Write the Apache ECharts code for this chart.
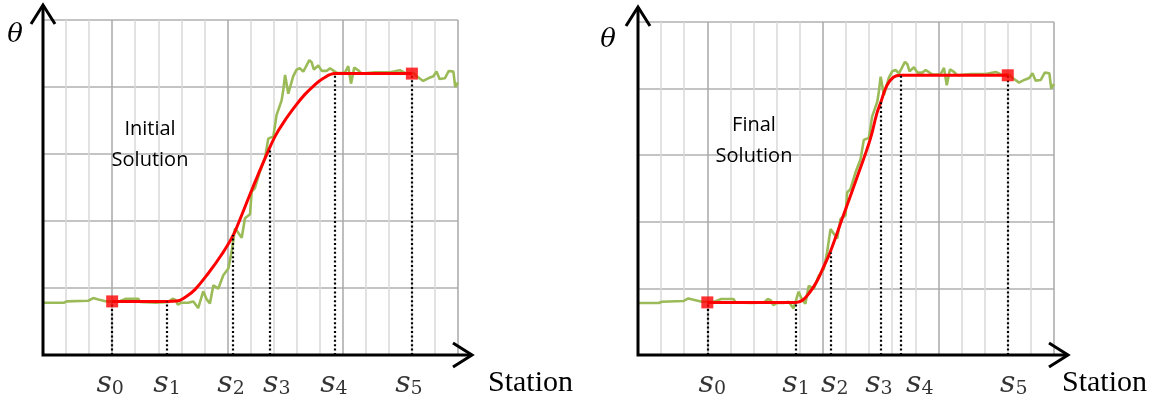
<!DOCTYPE html>
<html>
<head>
<meta charset="utf-8">
<script src="https://cdn.jsdelivr.net/npm/echarts@6/dist/echarts.min.js"></script>
<style>
html,body{margin:0;padding:0;background:#fff;}
#chart{width:1151px;height:400px;}
</style>
</head>
<body>
<div id="chart"></div>
<script>
// ---- data ----
// measured heading (same measurement in both panels)
const measured = [
  [-3,0.78],[-2.1,0.78],[-1.97,0.80],[-1.04,0.81],[-0.82,0.85],[-0.6,0.83],[-0.24,0.80],
  [0.3,0.80],[0.6,0.84],[1.13,0.84],[1.22,0.79],[1.9,0.78],[2.45,0.79],[2.62,0.84],[2.75,0.82],
  [2.85,0.75],[3.0,0.78],[3.3,0.78],[3.52,0.80],[3.73,0.70],[3.95,0.95],[4.1,0.83],[4.24,0.77],
  [4.39,1.04],[4.6,0.99],[4.82,1.19],[5.04,1.29],[5.18,1.54],[5.33,1.89],[5.62,1.75],[5.76,2.04],
  [5.98,2.10],[6.05,2.44],[6.19,2.49],[6.41,2.74],[6.63,2.94],[6.77,3.23],[6.99,3.26],[7.13,3.58],
  [7.35,3.80],[7.42,3.95],[7.5,4.18],[7.64,3.90],[7.85,4.16],[8.0,4.26],[8.14,4.28],[8.29,4.23],
  [8.4,4.30],[8.55,4.40],[8.65,4.37],[8.75,4.26],[8.94,4.32],[9.09,4.24],[9.3,4.24],[9.45,4.28],
  [9.74,4.21],[9.95,4.21],[10.1,4.22],[10.24,4.31],[10.36,4.05],[10.5,4.29],[10.67,4.25],[10.82,4.20],
  [11.4,4.22],[12.05,4.22],[12.48,4.25],[12.77,4.20],[13.06,4.21],[13.21,4.16],[13.49,4.09],
  [13.71,4.13],[13.93,4.16],[14.07,4.23],[14.2,4.12],[14.43,4.13],[14.6,4.24],[14.8,4.23],
  [14.88,4.00],[15,4.07]
];
// fitted curves
const initialCurve = [
  [0,0.80],[2.38,0.80],[2.8,0.805],[3.2,0.87],[3.6,0.98],[4.17,1.22],[4.75,1.50],[5.25,1.79],
  [5.62,2.09],[5.98,2.40],[6.34,2.70],[6.70,2.99],[7.06,3.26],[7.45,3.48],[8.0,3.74],[8.36,3.89],
  [8.72,4.01],[9.16,4.13],[9.66,4.20],[13,4.20]
];
const finalCurve = [
  [0,0.79],[3.84,0.79],[4.15,0.83],[4.45,0.95],[4.73,1.10],[5.0,1.30],[5.31,1.54],[5.88,2.09],
  [6.46,2.65],[7.04,3.23],[7.33,3.62],[7.51,3.80],[7.76,4.04],[8.05,4.17],[8.37,4.20],[13,4.20]
];
// stations s0..s5 and curve heights there
const stationNames = ['0','1','2','3','4','5'];
const initialStations = [0, 2.38, 5.24, 6.84, 9.66, 13];
const initialStationY = [0.80, 0.80, 1.79, 3.06, 4.20, 4.20];
const finalStations = [0, 3.84, 5.34, 7.51, 8.37, 13];
const finalStationY = [0.79, 0.79, 1.54, 3.80, 4.20, 4.20];
const panelTitles = [['Initial','Solution'],['Final','Solution']];
const xMin = -3, xMax = 15, yMin = 0, yMax = 5;

// ---- layout (pixels) ----
const grids = [
  {left:43, top:20, width:415, height:335},
  {left:638, top:22, width:416, height:333}
];
const labelShift = [[-2,0,-2,7,-1,-3],[5,0,4,-2,19,6]];
const thetaPos = [[15,35],[608,40]];
const stationPos = [[488,383],[1062,383]];
const titlePos = [[150,129,160],[754,125,156]];

const chart = echarts.init(document.getElementById('chart'), null, {renderer:'canvas'});
const minorC = '#d9d9d9', majorC = '#a8a8a8';
function xAxisDef(i){
  return {gridIndex:i, type:'value', min:xMin, max:xMax, interval:1,
    axisLine:{show:false}, axisTick:{show:false}, axisLabel:{show:false},
    splitLine:{show:true, lineStyle:{width:1.5, color:[minorC,minorC,minorC,majorC,minorC]}}};
}
function yAxisDef(i){
  return {gridIndex:i, type:'value', min:yMin, max:yMax, interval:1,
    axisLine:{show:false}, axisTick:{show:false}, axisLabel:{show:false},
    splitLine:{show:true, lineStyle:{width:1.5, color:'#b0b0b0'}}};
}
function panelSeries(i, curve, st, stY){
  return [
    {type:'line', xAxisIndex:i, yAxisIndex:i, data:measured, showSymbol:false, z:2,
     lineStyle:{color:'#9bbb59', width:2.6}, animation:false},
    {type:'line', xAxisIndex:i, yAxisIndex:i, data:curve, showSymbol:false, z:4,
     smooth:0.4, lineStyle:{color:'#ff0000', width:3}, animation:false,
     markLine:{silent:true, symbol:['none','none'], animation:false, label:{show:false},
       lineStyle:{color:'#000', width:2.2, type:[2,2.4]},
       data: st.map((s,k)=>[{coord:[s,0]},{coord:[s,stY[k]]}])}},
    {type:'scatter', xAxisIndex:i, yAxisIndex:i, z:5, symbol:'rect', symbolSize:12,
     itemStyle:{color:'#ff0000'}, animation:false,
     data:[[st[0],stY[0]],[st[5],stY[5]]]},
    {type:'scatter', xAxisIndex:i, yAxisIndex:i, z:5, symbolSize:0, animation:false, silent:true,
     data: st.map((s,k)=>({value:[s,0], name:stationNames[k], label:{offset:[labelShift[i][k],0]}})),
     label:{show:true, position:'bottom', distance:12,
       formatter:(p)=>'{s|s}{sub|'+p.name+'}',
       rich:{s:{fontFamily:'DejaVu Serif', fontStyle:'italic', fontSize:30, lineHeight:32, color:'#000', verticalAlign:'bottom'},
             sub:{fontFamily:'DejaVu Serif', fontSize:19, lineHeight:22, color:'#000', verticalAlign:'bottom'}}}}
  ];
}
chart.setOption({
  animation:false,
  grid:grids,
  xAxis:[xAxisDef(0), xAxisDef(1)],
  yAxis:[yAxisDef(0), yAxisDef(1)],
  series:[...panelSeries(0, initialCurve, initialStations, initialStationY),
          ...panelSeries(1, finalCurve, finalStations, finalStationY)]
});

// axes with open arrow heads + texts
const g = [];
[0,1].forEach(i=>{
  const o = chart.convertToPixel({gridIndex:i}, [xMin, yMin]);
  const e = chart.convertToPixel({gridIndex:i}, [xMax, yMax]);
  const xt = e[0]+14, yt = e[1]-15;
  g.push({type:'polyline', z:100, shape:{points:[[o[0],yt],[o[0],o[1]],[xt,o[1]]]},
          style:{stroke:'#000', lineWidth:3, fill:null, lineJoin:'miter'}});
  g.push({type:'polyline', z:100, shape:{points:[[xt-19,o[1]-12],[xt,o[1]],[xt-19,o[1]+12]]},
          style:{stroke:'#000', lineWidth:3, fill:null}});
  g.push({type:'polyline', z:100, shape:{points:[[o[0]-12,yt+19],[o[0],yt],[o[0]+12,yt+19]]},
          style:{stroke:'#000', lineWidth:3, fill:null}});
  g.push({type:'text', z:100, x:thetaPos[i][0], y:thetaPos[i][1],
          style:{text:'θ', fill:'#000', font:'italic 26px "DejaVu Serif"', align:'center', verticalAlign:'middle'}});
  g.push({type:'text', z:100, x:stationPos[i][0], y:stationPos[i][1],
          style:{text:'Station', fill:'#000', font:'30px "Liberation Serif"', align:'left', verticalAlign:'middle'}});
  g.push({type:'text', z:100, x:titlePos[i][0], y:titlePos[i][1],
          style:{text:panelTitles[i][0], fill:'#000', font:'20px "Open Sans"', align:'center', verticalAlign:'middle'}});
  g.push({type:'text', z:100, x:titlePos[i][0], y:titlePos[i][2],
          style:{text:panelTitles[i][1], fill:'#000', font:'20px "Open Sans"', align:'center', verticalAlign:'middle'}});
});
chart.setOption({graphic:g});
</script>
</body>
</html>
